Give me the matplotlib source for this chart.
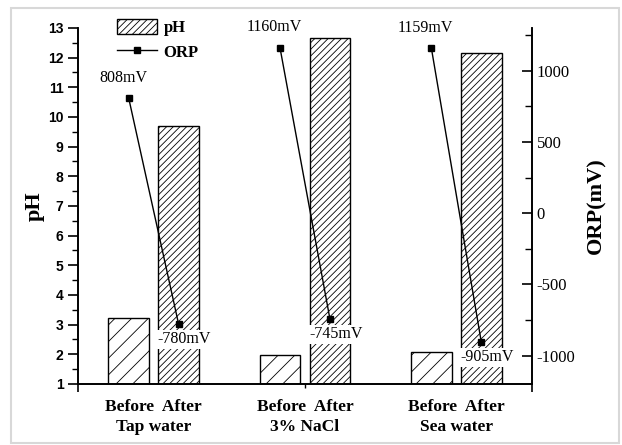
import numpy as np
import matplotlib.pyplot as plt
from matplotlib.lines import Line2D
from matplotlib.patches import Rectangle
import matplotlib.transforms as mtransforms

# ── Data ───────────────────────────────────────────────────
groups = ['Tap water', '3% NaCl', 'Sea water']
ph_before = [3.23, 1.97, 2.09]
ph_after = [9.69, 12.65, 12.15]
orp_before = [808, 1160, 1159]
orp_after = [-780, -745, -905]

plt.rcParams['font.family'] = 'Liberation Serif'
plt.rcParams['hatch.linewidth'] = 0.6
plt.rcParams['axes.unicode_minus'] = False

x = np.arange(len(groups))
off = 0.165
w = 0.27

fig = plt.figure(figsize=(6.22, 4.45), dpi=100)
ax = fig.add_axes([0.1254, 0.1371, 0.7299, 0.8000])
ax2 = ax.twinx()

# ── pH bars ────────────────────────────────────────────────
ax.bar(x - off, np.array(ph_before) - 1, w, bottom=1, color='white',
       edgecolor='black', hatch='//', linewidth=1.0)
after_bars = ax.bar(x + off, np.array(ph_after) - 1, w, bottom=1, color='white',
                    edgecolor='black', hatch='/////', linewidth=1.0)

ax.set_xlim(-0.5, 2.5)
ax.set_ylim(1, 13)
ax.set_yticks(range(1, 14))
ax.set_yticks(np.arange(1.5, 13, 1), minor=True)
ax.set_xticks([-0.5, 2.5])
ax.set_xticklabels([])
ax.set_xticks([1], minor=True)
ax.tick_params(axis='x', which='major', direction='out', length=6, width=1.2)
ax.tick_params(axis='x', which='minor', direction='out', length=3, width=1.0)
ax.tick_params(axis='y', which='major', direction='out', length=7, width=1.2)
ax.tick_params(axis='y', which='minor', direction='out', length=4, width=1.0)
for lab in ax.get_yticklabels():
    lab.set_fontfamily('Liberation Sans')
    lab.set_fontweight('bold')
    lab.set_fontsize(10)
ax.set_ylabel('pH', fontsize=16, fontweight='bold', labelpad=2)

for s in ['top']:
    ax.spines[s].set_visible(False)
    ax2.spines[s].set_visible(False)
for s in ['left', 'bottom', 'right']:
    ax.spines[s].set_linewidth(1.2)
    ax2.spines[s].set_linewidth(1.2)

# ── ORP lines ──────────────────────────────────────────────
for i in range(len(groups)):
    ax2.plot([x[i] - off, x[i] + off], [orp_before[i], orp_after[i]],
             color='black', lw=1.0, marker='s', markersize=4.5)
    ax2.annotate(f'{orp_before[i]}mV', (x[i] - off, orp_before[i]),
                 xytext=(-4, 9), textcoords='offset points',
                 ha='center', va='bottom', fontsize=11.5)
    ax2.annotate(f'{orp_after[i]}mV', (x[i] + off, orp_after[i]),
                 xytext=(-15, -11), textcoords='offset points',
                 ha='left', va='center', fontsize=11.5,
                 bbox=dict(boxstyle='square,pad=0.1', fc='white', ec='none'))

ax2.set_ylim(-1200, 1300)
ax2.set_yticks([-1000, -500, 0, 500, 1000])
ax2.set_yticks([-750, -250, 250, 750, 1250], minor=True)
ax2.tick_params(axis='y', which='major', direction='in', length=7, width=1.2,
                labelsize=12)
ax2.tick_params(axis='y', which='minor', direction='in', length=5, width=1.0)
ax2.set_ylabel('ORP(mV)', fontsize=16, fontweight='bold', labelpad=8)

# ── Group labels ───────────────────────────────────────────
trans = mtransforms.blended_transform_factory(ax.transData, ax.transAxes)
for i, g in enumerate(groups):
    ax.text(x[i], -0.042, 'Before  After', transform=trans, ha='center',
            va='top', fontsize=12.5, fontweight='bold')
    ax.text(x[i], -0.098, g, transform=trans, ha='center',
            va='top', fontsize=12.5, fontweight='bold')

# ── Legend ────────────────────────────────────────────────
orp_handle = Line2D([], [], color='black', lw=1.0, marker='s', markersize=4.5)
ax2.legend([after_bars[0], orp_handle], ['pH', 'ORP'], loc='upper left',
           bbox_to_anchor=(0.053, 1.068), frameon=False, handlelength=2.4,
           handleheight=1.0, handletextpad=0.4, labelspacing=0.45,
           prop={'weight': 'bold', 'size': 12})

# ── Figure border ─────────────────────────────────────────
fig.patches.append(Rectangle((11 / 622, 2 / 445), 608 / 622, 435 / 445,
                             transform=fig.transFigure, fill=False,
                             edgecolor='#d8d8d8', lw=1.5))

fig.savefig('out.png', dpi=100)
